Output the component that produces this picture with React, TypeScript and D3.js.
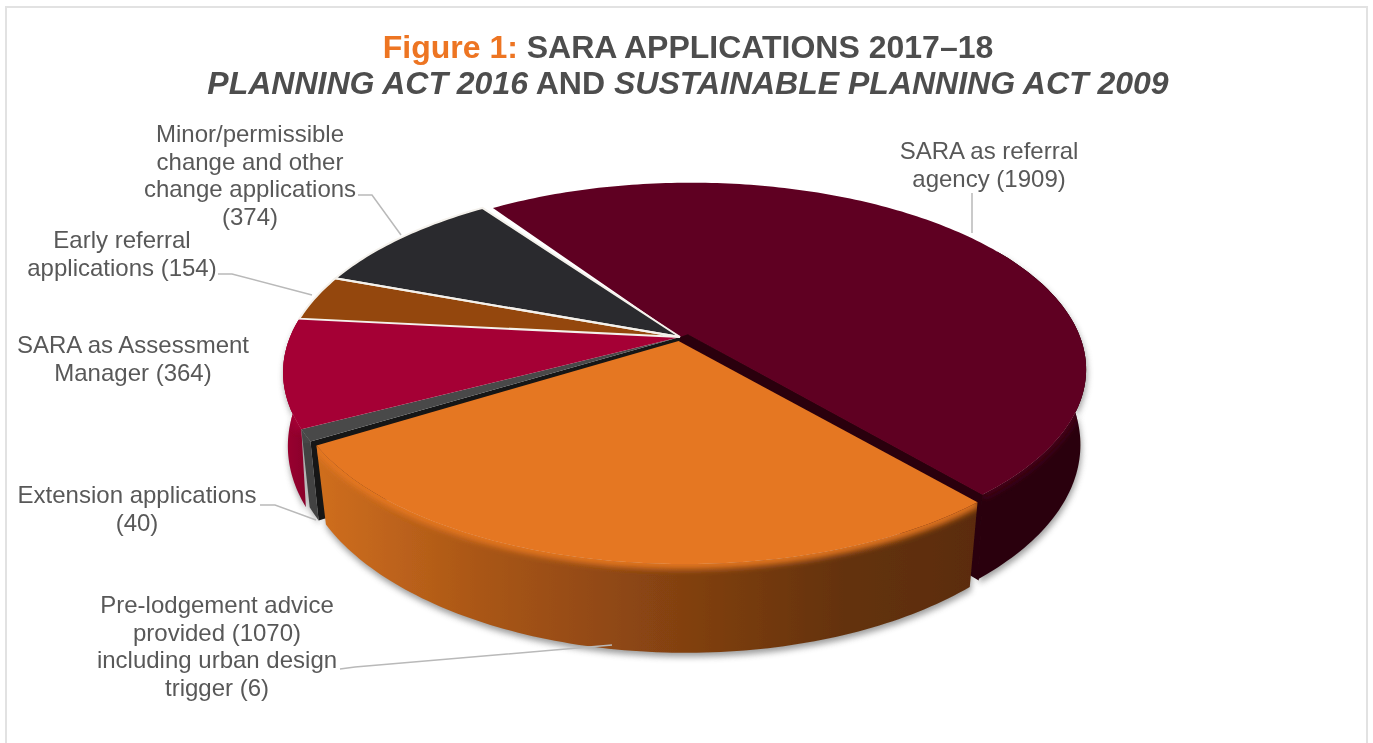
import React from "react";
import * as d3 from "d3";

// chart data
const categories = [
  "SARA as referral agency",
  "Pre-lodgement advice provided including urban design trigger",
  "Extension applications",
  "SARA as Assessment Manager",
  "Early referral applications",
  "Minor/permissible change and other change applications",
];
const values = [1909, 1070, 40, 364, 154, 374];
const topColors = ["#5f0021", "#e57722", "#4a4a4a", "#a50034", "#944607", "#2b2b2d"];
const wallColors = ["#2a000e", "url(#orangeWall)", "#434343", "url(#crimsonWall)", "#6e3405", "#1c1c1c"];
const bevelColors = ["#420016", "#e57722", "#4a4a4a", "#a50034", "#944607", "#2b2b2d"];
const explode = [0.025, 0.022, 0, 0, 0, 0];
const radius = [0.98, 0.98, 1, 1, 1, 1];
// how far the foot of each wall pulls in towards the centre
const wallShrink = [0.014, 0.026, 0.022, 0.012, 0.012, 0.012];
// small corrections in degrees (start, end), the drawn pie is not a true projection
const angleNudge = [[0, -0.5], [-1.2, -0.4], [0, 0], [0, 0], [0, 0], [0, 0]];
const outlined = [false, false, false, false, true, true];

const labelLines = [
  ["SARA as referral", "agency (1909)"],
  ["Pre-lodgement advice", "provided (1070)", "including urban design", "trigger (6)"],
  ["Extension applications", "(40)"],
  ["SARA as Assessment", "Manager (364)"],
  ["Early referral", "applications (154)"],
  ["Minor/permissible", "change and other", "change applications", "(374)"],
];

// layout, in the same order as the categories
const labelAnchor: [number, number][] = [
  [989, 159],
  [217, 613],
  [137, 503],
  [133, 353],
  [122, 248],
  [250, 142],
];
const leaders: [number, number][][] = [
  [[972, 193], [972, 233]],
  [[340, 669], [355, 667], [612, 645]],
  [[260, 505], [275, 505], [316, 520]],
  [],
  [[218, 274], [232, 274], [312, 295]],
  [[358, 195], [372, 195], [401, 235]],
];

const width = 1373;
const height = 743;
const cx = 680;
const cy = 337;
const rx = 395;
const ry = 184;
const persp = 0.188;
const perspX = 0.013;
const depth = 72;
const deg = Math.PI / 180;

const pieData = d3
  .pie<number>()
  .sort(null)
  .startAngle(-35.5 * deg)
  .endAngle(324.5 * deg)(values);

// disc coordinates to screen, with a simple perspective divide
const project = (a: number, r: number, z: number, off: number, mid: number, shr = 0): [number, number] => {
  const u = r * Math.sin(a) + off * Math.sin(mid);
  const v = -r * Math.cos(a) - off * Math.cos(mid);
  const w = 1 - persp * v - perspX * u;
  const shrink = 1 - shr * z;
  return [cx + (rx * u * shrink) / w, cy + (ry * v) / w + (z * depth) / w];
};

const line = d3.line<[number, number]>();
const centre = project(0, 0, 0, 0, 0);
const centreBottom = project(0, 0, 1, 0, 0);

const sliceParts = (d: d3.PieArcDatum<number>, i: number) => {
  const mid = (d.startAngle + d.endAngle) / 2;
  const off = explode[i];
  const r = radius[i];
  const shr = wallShrink[i];
  const a0 = d.startAngle + angleNudge[i][0] * deg;
  const a1 = d.endAngle + angleNudge[i][1] * deg;
  const steps = d3.range(0, 1.0001, 1 / Math.max(4, Math.ceil((a1 - a0) / (1 * deg))));
  const angles = steps.map((t) => a0 + t * (a1 - a0));
  // the back of the biggest slice never shows, and would peek out past its first edge
  const wallAngles = i === 0 ? angles.filter((a) => a > 60 * deg) : angles;
  const topArc = angles.map((a) => project(a, r, 0, off, mid));
  const wallTop = wallAngles.map((a) => project(a, r, 0, off, mid));
  const bottomArc = wallAngles.map((a) => project(a, r, 1, off, mid, shr)).reverse();
  const apex = project(0, 0, 0, off, mid);
  const apexBottom = project(0, 0, 1, off, mid, shr);
  return {
    // the biggest slice closes on the pie centre, so no white shows at its first edge
    top: line(i === 0 ? [centre, ...topArc, apex] : [apex, ...topArc]) + "Z",
    rim: line(wallTop) || "",
    wall: line([...wallTop, ...bottomArc]) + "Z",
    // the straight cuts at the start and the end of the slice
    cut: line([apex, wallTop[0], bottomArc[bottomArc.length - 1], apexBottom]) + "Z",
    cutEnd: line([centre, apex, wallTop[wallTop.length - 1], bottomArc[0], apexBottom, centreBottom]) + "Z",
  };
};

const parts = pieData.map(sliceParts);
const wallOrder = [0, 3, 2, 1];

const labelFont = "'Liberation Sans', Arial, sans-serif";

export default function App() {
  return (
    <svg
      width={width}
      height={height}
      viewBox={`0 0 ${width} ${height}`}
      style={{ position: "absolute", left: 0, top: 0, background: "#fff" }}
    >
      <defs>
        <linearGradient id="orangeWall" gradientUnits="userSpaceOnUse" x1={318} x2={975} y1={0} y2={0}>
          <stop offset="0" stopColor="#cf6e1f" />
          <stop offset="0.25" stopColor="#a95616" />
          <stop offset="0.55" stopColor="#834111" />
          <stop offset="0.8" stopColor="#64320d" />
          <stop offset="1" stopColor="#5b2c0b" />
        </linearGradient>
        <linearGradient id="crimsonWall" gradientUnits="userSpaceOnUse" x1={283} x2={310} y1={0} y2={0}>
          <stop offset="0" stopColor="#9c0030" />
          <stop offset="1" stopColor="#86002a" />
        </linearGradient>
        <filter id="soft" x="-10%" y="-10%" width="120%" height="120%">
          <feGaussianBlur stdDeviation="0.6" />
        </filter>
        <filter id="textSoft" x="-5%" y="-5%" width="110%" height="110%">
          <feGaussianBlur stdDeviation="0.35" />
        </filter>
        <filter id="bevel" x="-10%" y="-10%" width="120%" height="120%">
          <feGaussianBlur stdDeviation="3" />
        </filter>
        <filter id="shadow" x="-10%" y="-10%" width="120%" height="120%">
          <feGaussianBlur stdDeviation="3" />
        </filter>
        {wallOrder.map((i) => (
          <clipPath key={i} id={`wallClip${i}`}>
            <path d={parts[i].wall} />
          </clipPath>
        ))}
      </defs>

      <rect x={6} y={7} width={1361} height={745} fill="#fff" stroke="#e2e2e2" strokeWidth={2} />

      <g filter="url(#textSoft)">
        <text x={688} y={58} textAnchor="middle" fontFamily={labelFont} fontWeight="bold" fontSize={32} fill="#4d4d4d">
          <tspan fill="#ed7423">Figure 1:</tspan> SARA APPLICATIONS 2017–18
        </text>
        <text x={688} y={94} textAnchor="middle" fontFamily={labelFont} fontWeight="bold" fontSize={32} fill="#4d4d4d">
          <tspan fontStyle="italic">PLANNING ACT 2016</tspan> AND <tspan fontStyle="italic">SUSTAINABLE PLANNING ACT 2009</tspan>
        </text>
      </g>

      <g filter="url(#shadow)" transform="translate(1,4)" fill="#7c7c7c" opacity={0.75}>
        {wallOrder.map((i) => (
          <path key={i} d={parts[i].wall} />
        ))}
      </g>

      <g filter="url(#soft)">
        <path d={parts[0].cutEnd} fill="#2a000e" stroke="#2a000e" strokeWidth={1.5} />
        <path d={parts[2].cut} fill="#151515" />
        {wallOrder.map((i) => (
          <g key={i}>
            <path d={parts[i].wall} fill={wallColors[i]} />
            <g clipPath={`url(#wallClip${i})`}>
              <path d={parts[i].rim} fill="none" stroke={bevelColors[i]} strokeWidth={10} filter="url(#bevel)" />
            </g>
          </g>
        ))}
        {pieData.map((d, i) => (
          <path key={i} d={parts[i].top} fill={topColors[i]} />
        ))}
        {pieData.map((d, i) =>
          outlined[i] ? <path key={i} d={parts[i].top} fill="none" stroke="#f4f1ec" strokeWidth={2} /> : null
        )}
      </g>

      {leaders.map((pts, i) =>
        pts.length ? <path key={i} d={line(pts) || ""} fill="none" stroke="#b9b9b9" strokeWidth={1.5} /> : null
      )}

      <g filter="url(#textSoft)">
        {labelLines.map((rows, i) => (
          <text
            key={categories[i]}
            x={labelAnchor[i][0]}
            y={labelAnchor[i][1]}
            textAnchor="middle"
            fontFamily={labelFont}
            fontSize={24}
            fill="#595959"
          >
            {rows.map((row, j) => (
              <tspan key={j} x={labelAnchor[i][0]} y={labelAnchor[i][1] + j * 27.7}>
                {row}
              </tspan>
            ))}
          </text>
        ))}
      </g>
    </svg>
  );
}
